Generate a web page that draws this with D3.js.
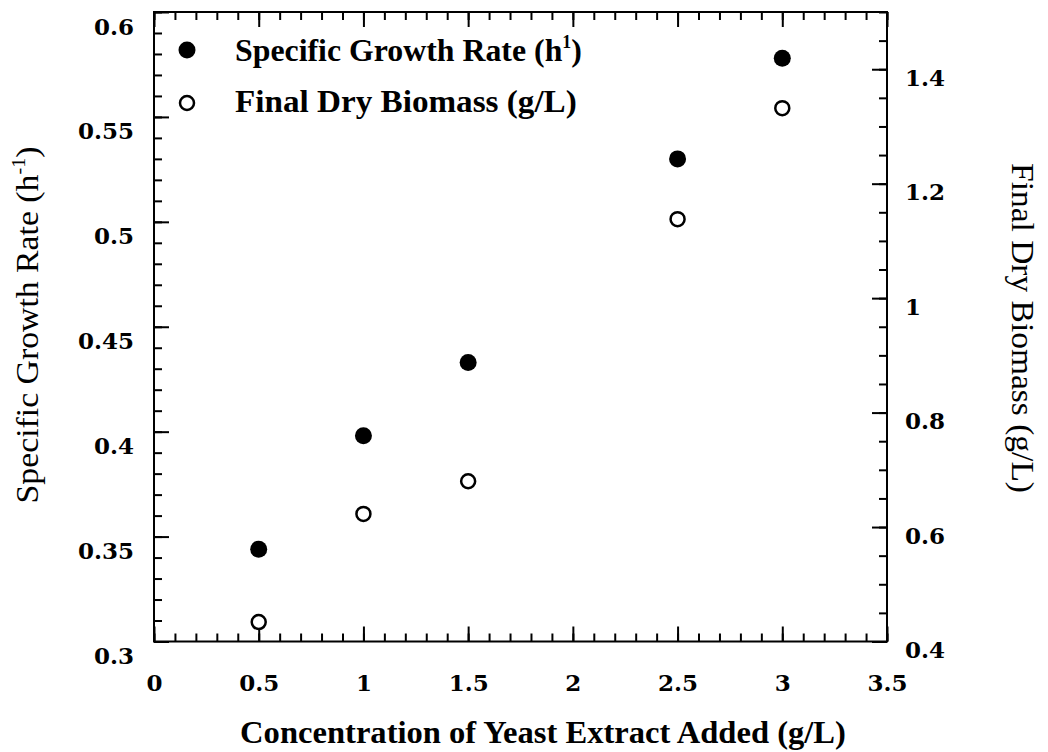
<!DOCTYPE html>
<html>
<head>
<meta charset="utf-8">
<script src="https://cdn.jsdelivr.net/npm/d3@7"></script>
<style>
  html, body { margin: 0; padding: 0; background: #ffffff; }
  svg { display: block; }
</style>
</head>
<body>
<svg id="chart" width="1048" height="752"></svg>
<script>
// Yeast extract concentration (g/L) and the two measured responses
const concentrations = [0.5, 1.0, 1.5, 2.5, 3.0];
const growthRate = [0.344, 0.398, 0.433, 0.530, 0.578];   // h^-1, left axis
const dryBiomass = [0.434, 0.623, 0.680, 1.138, 1.332];   // g/L, right axis

// Tick values and their printed labels
const xTickValues = [0, 0.5, 1, 1.5, 2, 2.5, 3, 3.5];
const xTickLabels = ["0", "0.5", "1", "1.5", "2", "2.5", "3", "3.5"];
const leftTickValues = [0.3, 0.35, 0.4, 0.45, 0.5, 0.55, 0.6];
const leftTickLabels = ["0.3", "0.35", "0.4", "0.45", "0.5", "0.55", "0.6"];
const rightTickValues = [0.4, 0.6, 0.8, 1.0, 1.2, 1.4];
const rightTickLabels = ["0.4", "0.6", "0.8", "1", "1.2", "1.4"];

const legendLabels = ["Specific Growth Rate (h", "Final Dry Biomass (g/L)"];
const xTitle = "Concentration of Yeast Extract Added (g/L)";
const leftTitle = "Specific Growth Rate (h";
const rightTitle = "Final Dry Biomass (g/L)";

const svg = d3.select("#chart");
const W = 1048, H = 752;
const plot = { left: 154, right: 887, top: 12, bottom: 641.5 };

const x = d3.scaleLinear().domain([0, 3.5]).range([plot.left, plot.right]);
const yL = d3.scaleLinear().domain([0.3, 0.6]).range([plot.bottom, plot.top]);
const yR = d3.scaleLinear().domain([0.4, 1.5]).range([plot.bottom, plot.top]);

const TICK_FONT = "'DejaVu Serif', serif";
const TITLE_FONT = "'Liberation Serif', 'Times New Roman', serif";

svg.append("rect").attr("width", W).attr("height", H).attr("fill", "#fff");

// Minor tick positions
const xMinor = d3.range(0, 3.5001, 0.1).map(v => +v.toFixed(2));
const leftMinor = d3.range(0.3, 0.6001, 0.01).map(v => +v.toFixed(3));
const rightMinor = d3.range(0.4, 1.5001, 0.05).map(v => +v.toFixed(3));

function styleAxis(g) {
  g.select(".domain").remove();
  g.selectAll(".tick line").attr("stroke", "#000").attr("stroke-width", 2);
  g.attr("font-family", TICK_FONT).attr("font-size", 23).attr("font-weight", "bold");
}

// Bottom axis: minor then major, ticks pointing into the plot
svg.append("g").attr("transform", `translate(0,${plot.bottom})`)
  .call(d3.axisBottom(x).tickValues(xMinor).tickSize(-8).tickFormat(""))
  .call(styleAxis);
const gx = svg.append("g").attr("transform", `translate(0,${plot.bottom})`)
  .call(d3.axisBottom(x).tickValues(xTickValues).tickSize(-15)
    .tickFormat((d, i) => xTickLabels[i]))
  .call(styleAxis);
gx.selectAll(".tick text").attr("y", 49.5).attr("dy", 0).attr("fill", "#000");

// Top axis: ticks only
svg.append("g").attr("transform", `translate(0,${plot.top})`)
  .call(d3.axisTop(x).tickValues(xMinor).tickSize(-8).tickFormat(""))
  .call(styleAxis);
svg.append("g").attr("transform", `translate(0,${plot.top})`)
  .call(d3.axisTop(x).tickValues(xTickValues).tickSize(-15).tickFormat(""))
  .call(styleAxis);

// Left axis (specific growth rate)
svg.append("g").attr("transform", `translate(${plot.left},0)`)
  .call(d3.axisLeft(yL).tickValues(leftMinor).tickSize(-8).tickFormat(""))
  .call(styleAxis);
const gl = svg.append("g").attr("transform", `translate(${plot.left},0)`)
  .call(d3.axisLeft(yL).tickValues(leftTickValues).tickSize(-15)
    .tickFormat((d, i) => leftTickLabels[i]))
  .call(styleAxis);
gl.selectAll(".tick text").attr("x", -20).attr("y", 22).attr("dy", 0).attr("fill", "#000");

// Right axis (final dry biomass)
svg.append("g").attr("transform", `translate(${plot.right},0)`)
  .call(d3.axisRight(yR).tickValues(rightMinor).tickSize(-8).tickFormat(""))
  .call(styleAxis);
const gr = svg.append("g").attr("transform", `translate(${plot.right},0)`)
  .call(d3.axisRight(yR).tickValues(rightTickValues).tickSize(-15)
    .tickFormat((d, i) => rightTickLabels[i]))
  .call(styleAxis);
gr.selectAll(".tick text").attr("x", 18).attr("y", 16).attr("dy", 0).attr("fill", "#000");

// Plot frame
svg.append("rect")
  .attr("x", plot.left).attr("y", plot.top)
  .attr("width", plot.right - plot.left).attr("height", plot.bottom - plot.top)
  .attr("fill", "none").attr("stroke", "#000").attr("stroke-width", 2);

// Scale a text horizontally so it spans the given width
function placeText(t, width, tx, ty, rot) {
  const w = t.node().getComputedTextLength();
  const s = width / w;
  t.attr("transform", `translate(${tx},${ty})` + (rot ? ` rotate(${rot})` : "") + ` scale(${s},1)`);
}

// Axis titles
const xt = svg.append("text")
  .attr("font-family", TITLE_FONT).attr("font-weight", "bold").attr("font-size", 32)
  .attr("text-anchor", "middle").attr("fill", "#000")
  .text(xTitle);
placeText(xt, 606, 543, 743);

const lt = svg.append("text")
  .attr("font-family", TITLE_FONT).attr("font-size", 32)
  .attr("text-anchor", "middle").attr("fill", "#000");
lt.append("tspan").text(leftTitle);
lt.append("tspan").attr("font-size", 19).attr("dy", -13).text("-1");
lt.append("tspan").attr("dy", 13).text(")");
placeText(lt, 357, 38, 325, -90);

const rt = svg.append("text")
  .attr("font-family", TITLE_FONT).attr("font-size", 32)
  .attr("text-anchor", "middle").attr("fill", "#000")
  .text(rightTitle);
placeText(rt, 330, 1012, 328, 90);

// Data points
svg.append("g").selectAll("circle")
  .data(concentrations)
  .join("circle")
  .attr("cx", d => x(d))
  .attr("cy", (d, i) => yL(growthRate[i]))
  .attr("r", 8.5)
  .attr("fill", "#000");

svg.append("g").selectAll("circle")
  .data(concentrations)
  .join("circle")
  .attr("cx", d => x(d))
  .attr("cy", (d, i) => yR(dryBiomass[i]))
  .attr("r", 7)
  .attr("fill", "#fff")
  .attr("stroke", "#000")
  .attr("stroke-width", 2.5);

// Legend
const legend = svg.append("g");
legend.append("circle").attr("cx", 187).attr("cy", 50).attr("r", 8.5).attr("fill", "#000");
legend.append("circle").attr("cx", 187).attr("cy", 103).attr("r", 7)
  .attr("fill", "#fff").attr("stroke", "#000").attr("stroke-width", 2.5);

const l1 = legend.append("text")
  .attr("font-family", TITLE_FONT).attr("font-weight", "bold").attr("font-size", 32)
  .attr("fill", "#000");
l1.append("tspan").text(legendLabels[0]);
l1.append("tspan").attr("font-size", 18).attr("dy", -13).text("1");
l1.append("tspan").attr("dy", 13).text(")");
placeText(l1, 347, 235, 61);

const l2 = legend.append("text")
  .attr("font-family", TITLE_FONT).attr("font-weight", "bold").attr("font-size", 32)
  .attr("fill", "#000")
  .text(legendLabels[1]);
placeText(l2, 342, 235, 112);
</script>
</body>
</html>
